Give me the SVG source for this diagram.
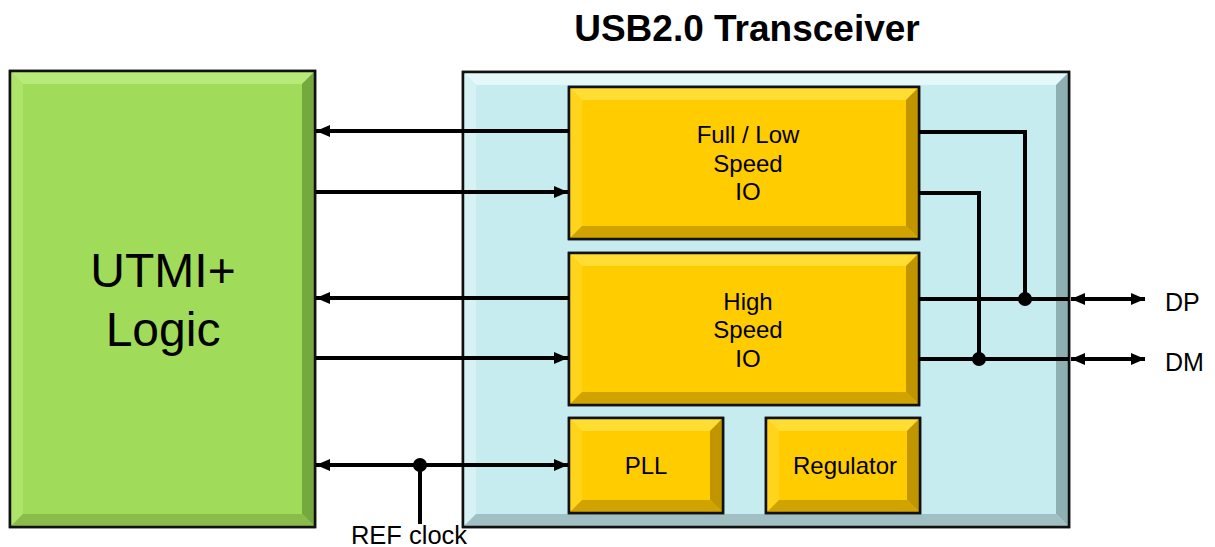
<svg xmlns="http://www.w3.org/2000/svg" width="1215" height="547" viewBox="0 0 1215 547">
<defs>
<style>
text{font-family:"Liberation Sans",Arial,sans-serif;fill:#000}
.box{stroke:#111;stroke-width:2.5}
.w{fill:none;stroke:#000;stroke-width:4}
.lab{font-size:24px;text-anchor:middle}
.side{font-size:25px}
</style>
<marker id="ah" viewBox="0 0 14 12" refX="14" refY="6" markerWidth="14" markerHeight="12" markerUnits="userSpaceOnUse" orient="auto-start-reverse">
<path d="M0,0L14,6L0,12z" fill="#000"/>
</marker>
</defs>
<rect width="1215" height="547" fill="#fff"/>
<text x="747" y="41" font-size="37" font-weight="bold" text-anchor="middle">USB2.0 Transceiver</text>

<g id="utmi">
<rect x="10" y="71" width="305" height="456" fill="#a0dc5a" class="box"/>
<polygon points="11,72 314,72 302,84 23,84" fill="#b8ea7a"/>
<polygon points="11,72 23,84 23,514 11,526" fill="#aee46a"/>
<polygon points="314,72 314,526 302,514 302,84" fill="#76a840"/>
<polygon points="11,526 23,514 302,514 314,526" fill="#8abc4c"/>
<rect x="10" y="71" width="305" height="456" fill="none" class="box"/>
<text x="163" y="287" font-size="48" text-anchor="middle">UTMI+</text>
<text x="163" y="346" font-size="48" text-anchor="middle">Logic</text>
</g>

<g id="transceiver">
<rect x="463" y="72" width="606" height="455" fill="#c6ecef" class="box"/>
<polygon points="464,73 1068,73 1056,85 476,85" fill="#e4f8fa"/>
<polygon points="464,73 476,85 476,514 464,526" fill="#d6f2f4"/>
<polygon points="1068,73 1068,526 1056,514 1056,85" fill="#8eb0b3"/>
<polygon points="464,526 476,514 1056,514 1068,526" fill="#a0c0c3"/>
<rect x="463" y="72" width="606" height="455" fill="none" class="box"/>
</g>

<g id="fls">
<rect x="569" y="87" width="350" height="152" fill="#ffcc00" class="box"/>
<polygon points="570,88 918,88 906,100 582,100" fill="#ffdd33"/>
<polygon points="570,88 582,100 582,226 570,238" fill="#ffd41a"/>
<polygon points="918,88 918,238 906,226 906,100" fill="#c09500"/>
<polygon points="570,238 582,226 906,226 918,238" fill="#d0a300"/>
<rect x="569" y="87" width="350" height="152" fill="none" class="box"/>
<text class="lab" x="748" y="143">Full / Low</text>
<text class="lab" x="748" y="171.5">Speed</text>
<text class="lab" x="748" y="200">IO</text>
</g>

<g id="hs">
<rect x="569" y="253" width="350" height="152" fill="#ffcc00" class="box"/>
<polygon points="570,254 918,254 906,266 582,266" fill="#ffdd33"/>
<polygon points="570,254 582,266 582,392 570,404" fill="#ffd41a"/>
<polygon points="918,254 918,404 906,392 906,266" fill="#c09500"/>
<polygon points="570,404 582,392 906,392 918,404" fill="#d0a300"/>
<rect x="569" y="253" width="350" height="152" fill="none" class="box"/>
<text class="lab" x="748" y="309.5">High</text>
<text class="lab" x="748" y="338">Speed</text>
<text class="lab" x="748" y="366.5">IO</text>
</g>

<g id="pll">
<rect x="569" y="418" width="154" height="95" fill="#ffcc00" class="box"/>
<polygon points="570,419 722,419 710,431 582,431" fill="#ffdd33"/>
<polygon points="570,419 582,431 582,500 570,512" fill="#ffd41a"/>
<polygon points="722,419 722,512 710,500 710,431" fill="#c09500"/>
<polygon points="570,512 582,500 710,500 722,512" fill="#d0a300"/>
<rect x="569" y="418" width="154" height="95" fill="none" class="box"/>
<text class="lab" x="646" y="474">PLL</text>
</g>

<g id="regulator">
<rect x="766" y="418" width="154" height="95" fill="#ffcc00" class="box"/>
<polygon points="767,419 919,419 907,431 779,431" fill="#ffdd33"/>
<polygon points="767,419 779,431 779,500 767,512" fill="#ffd41a"/>
<polygon points="919,419 919,512 907,500 907,431" fill="#c09500"/>
<polygon points="767,512 779,500 907,500 919,512" fill="#d0a300"/>
<rect x="766" y="418" width="154" height="95" fill="none" class="box"/>
<text class="lab" x="845" y="473.5">Regulator</text>
</g>

<g id="connectors">
<line class="w" x1="569" y1="131" x2="316" y2="131" marker-end="url(#ah)"/>
<line class="w" x1="316" y1="192" x2="568" y2="192" marker-end="url(#ah)"/>
<line class="w" x1="569" y1="298" x2="316" y2="298" marker-end="url(#ah)"/>
<line class="w" x1="316" y1="358" x2="568" y2="358" marker-end="url(#ah)"/>
<line class="w" x1="316" y1="465" x2="568" y2="465" marker-start="url(#ah)" marker-end="url(#ah)"/>
<line class="w" x1="420" y1="465" x2="420" y2="524"/>
<circle cx="420" cy="465" r="7"/>
<polyline class="w" points="919,132 1025,132 1025,299"/>
<polyline class="w" points="919,193 979,193 979,359"/>
<line class="w" x1="919" y1="299" x2="1069" y2="299"/>
<line class="w" x1="919" y1="359" x2="1069" y2="359"/>
<circle cx="1025" cy="299" r="7"/>
<circle cx="979" cy="359" r="7"/>
<line class="w" x1="1071" y1="299" x2="1145" y2="299" marker-start="url(#ah)" marker-end="url(#ah)"/>
<line class="w" x1="1071" y1="359" x2="1145" y2="359" marker-start="url(#ah)" marker-end="url(#ah)"/>
</g>
<text class="side" x="1165" y="311">DP</text>
<text class="side" x="1165" y="371">DM</text>
<text x="409" y="544" font-size="25.5" text-anchor="middle">REF clock</text>
</svg>
